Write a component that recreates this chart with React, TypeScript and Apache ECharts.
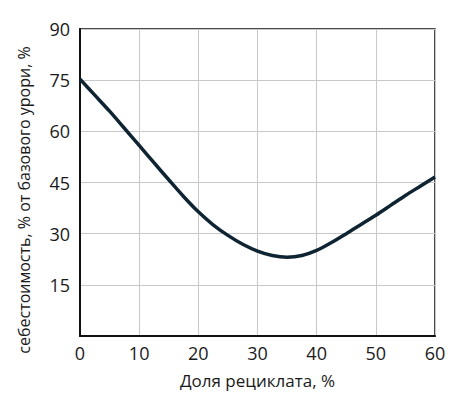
import React, { useEffect, useRef } from "react";
import * as echarts from "echarts";

const xValues = [0, 2.5, 5, 7.5, 10, 12.5, 15, 17.5, 20, 22.5, 25, 27.5, 30, 32.5, 35, 37.5, 40, 42.5, 45, 47.5, 50, 52.5, 55, 57.5, 60];
const yValues = [75.3, 70.6, 65.9, 60.9, 55.9, 50.8, 45.8, 40.9, 36.4, 32.6, 29.5, 26.9, 24.9, 23.6, 23.1, 23.6, 25.1, 27.4, 30.0, 32.7, 35.4, 38.3, 41.2, 43.9, 46.6];
const xTicks = [0, 10, 20, 30, 40, 50, 60];
const yTicks = [0, 15, 30, 45, 60, 75, 90];
const xName = "Доля рециклата, %";
const yName = "себестоимость, % от базового урори, %";

export default function App() {
  const ref = useRef<HTMLDivElement>(null);
  useEffect(() => {
    document.body.style.margin = "0";
    const chart = echarts.init(ref.current!, null, { renderer: "svg" });
    const font = "'Open Sans', 'Noto Sans', sans-serif";
    chart.setOption({
      animation: false,
      backgroundColor: "#fff",
      grid: {
        left: 80,
        right: 29,
        top: 29,
        bottom: 65,
        show: true,
        borderColor: "#111",
        borderWidth: 1.5,
      },
      graphic: [
        {
          type: "text",
          x: 24,
          y: 200,
          rotation: Math.PI / 2,
          style: {
            text: yName,
            fontFamily: font,
            fontSize: 16,
            fill: "#1a1a1a",
            align: "center",
            verticalAlign: "middle",
          },
        },
      ],
      xAxis: {
        type: "value",
        min: xTicks[0],
        max: xTicks[xTicks.length - 1],
        interval: 10,
        name: xName,
        nameLocation: "middle",
        nameGap: 36,
        nameTextStyle: { fontFamily: font, fontSize: 17, color: "#1a1a1a" },
        axisLine: { show: true, lineStyle: { color: "#111", width: 2 } },
        axisTick: { show: false },
        axisLabel: { fontFamily: font, fontSize: 18, color: "#1a1a1a", margin: 8 },
        splitLine: { show: true, lineStyle: { color: "#c8c8c8", width: 1 } },
      },
      yAxis: {
        type: "value",
        min: yTicks[0],
        max: yTicks[yTicks.length - 1],
        interval: 15,
        axisLine: { show: true, lineStyle: { color: "#111", width: 2 } },
        axisTick: { show: false },
        axisLabel: {
          fontFamily: font,
          fontSize: 18,
          color: "#1a1a1a",
          margin: 10,
          formatter: (v: number) => (v === 0 ? "" : String(v)),
        },
        splitLine: { show: true, lineStyle: { color: "#c8c8c8", width: 1 } },
      },
      series: [
        {
          type: "line",
          data: xValues.map((x, i) => [x, yValues[i]]),
          smooth: 0.3,
          showSymbol: false,
          symbol: "none",
          lineStyle: { color: "#0f2433", width: 3.5 },
        },
      ],
    });
    return () => chart.dispose();
  }, []);
  return <div ref={ref} style={{ width: 464, height: 401 }} />;
}
